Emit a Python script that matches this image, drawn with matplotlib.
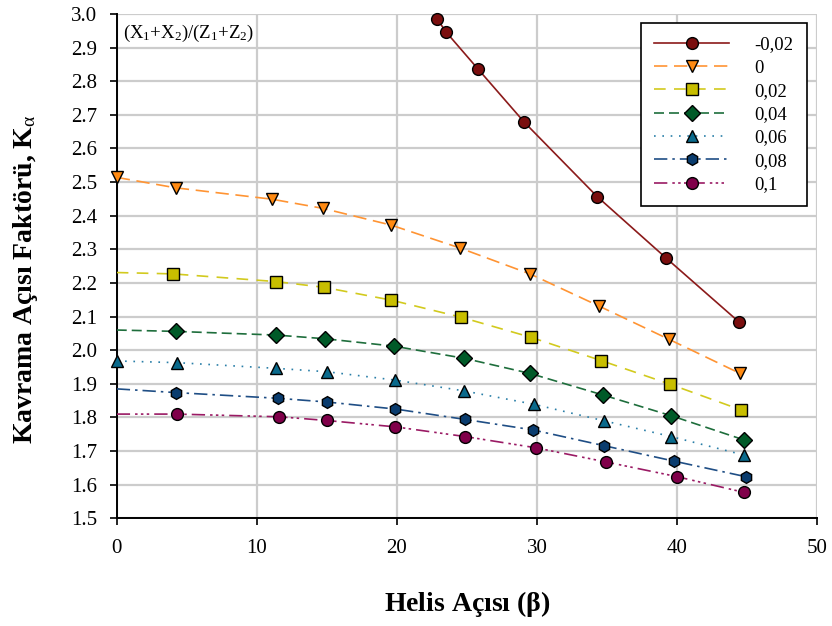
import matplotlib
matplotlib.use("Agg")
import matplotlib.pyplot as plt

plt.rcParams['font.family'] = ['Liberation Serif', 'DejaVu Serif']
plt.rcParams['mathtext.fontset'] = 'custom'
plt.rcParams['mathtext.rm'] = 'Liberation Serif'
plt.rcParams['mathtext.it'] = 'Liberation Serif:italic'
plt.rcParams['mathtext.bf'] = 'Liberation Serif:bold'

# ── Data ─────────────────────────────────────────────────────────────────────
labels = ['-0,02', '0', '0,02', '0,04', '0,06', '0,08', '0,1']

x_m002 = [22.9, 23.5, 25.8, 29.1, 34.3, 39.2, 44.4]
y_m002 = [2.984, 2.947, 2.836, 2.678, 2.457, 2.275, 2.085]

x_000 = [0.0, 4.2, 11.1, 14.7, 19.6, 24.5, 29.5, 34.4, 39.4, 44.5]
y_000 = [2.514, 2.483, 2.449, 2.422, 2.372, 2.304, 2.227, 2.132, 2.033, 1.931]

x_002 = [4.0, 11.4, 14.8, 19.6, 24.6, 29.6, 34.6, 39.5, 44.6]
y_002 = [2.227, 2.204, 2.187, 2.149, 2.098, 2.038, 1.969, 1.899, 1.822]

x_004 = [4.2, 11.4, 14.9, 19.8, 24.8, 29.5, 34.7, 39.6, 44.8]
y_004 = [2.056, 2.045, 2.034, 2.012, 1.976, 1.931, 1.867, 1.805, 1.733]

x_006 = [0.0, 4.3, 11.4, 15.0, 19.9, 24.8, 29.8, 34.8, 39.6, 44.8]
y_006 = [1.968, 1.963, 1.946, 1.936, 1.911, 1.879, 1.839, 1.790, 1.743, 1.688]

x_008 = [4.2, 11.5, 15.0, 19.9, 24.9, 29.7, 34.8, 39.8, 44.9]
y_008 = [1.874, 1.857, 1.846, 1.825, 1.794, 1.763, 1.716, 1.670, 1.624]

x_010 = [4.3, 11.6, 15.0, 19.9, 24.9, 29.9, 34.9, 40.0, 44.8]
y_010 = [1.810, 1.802, 1.791, 1.772, 1.743, 1.710, 1.668, 1.624, 1.577]

# value of each trend line where it meets the y axis (None = no start point)
line_start = [None, 2.516, 2.231, 2.060, 1.966, 1.885, 1.810]

xs = [x_m002, x_000, x_002, x_004, x_006, x_008, x_010]
ys = [y_m002, y_000, y_002, y_004, y_006, y_008, y_010]

# ── Styles ───────────────────────────────────────────────────────────────────
line_colors = ['#8B1A1A', '#FF9433', '#D2CA1E', '#1E6E3C', '#2A7FA8', '#1F4E85', '#9A1A64']
face_colors = ['#7A0E0E', '#FF8A12', '#C8BE00', '#005A28', '#0A6A8C', '#0A3C6E', '#80004A']
markers = ['o', 'v', 's', 'D', '^', 'h', 'o']
msizes = [8.5, 8.5, 8, 8, 8.5, 8.5, 8.5]
dashes = [None, (8, 4), (7, 5), (6, 3), (1, 4), (8, 3, 1.5, 3), (8, 3, 1.5, 2, 1.5, 2, 1.5, 3)]

fig = plt.figure(figsize=(8.32, 6.26), dpi=100)
ax = fig.add_axes([0.1403, 0.172, 0.8417, 0.8057])

handles = []
for i in range(len(labels)):
    lx = list(xs[i])
    ly = list(ys[i])
    if line_start[i] is not None and lx[0] > 0:
        lx = [0.0] + lx
        ly = [line_start[i]] + ly
    ln, = ax.plot(lx, ly, color=line_colors[i], lw=1.2, zorder=3)
    if dashes[i] is not None:
        ln.set_dashes(dashes[i])
    ax.plot(xs[i], ys[i], linestyle='none', marker=markers[i], ms=msizes[i],
            mfc=face_colors[i], mec='black', mew=1.0, zorder=4, clip_on=False)
    h, = ax.plot([], [], color=line_colors[i], lw=1.2, marker=markers[i], ms=msizes[i],
                 mfc=face_colors[i], mec='black', mew=1.0)
    if dashes[i] is not None:
        h.set_dashes(dashes[i])
    handles.append(h)

ax.set_xlim(0, 50)
ax.set_ylim(1.5, 3.0)
ax.set_xticks(range(0, 51, 10))
ax.set_yticks([1.5 + 0.1 * k for k in range(16)])
ax.set_yticklabels([f"{1.5 + 0.1 * k:.1f}" for k in range(16)])
ax.tick_params(labelsize=15, direction='out', length=5, width=1.2)
ax.tick_params(axis='x', pad=10)
ax.tick_params(axis='y', pad=9)
ax.grid(True, color='#CCCCCC', lw=1.6, zorder=0)
ax.set_axisbelow(True)
for s in ['top', 'right']:
    ax.spines[s].set_visible(False)
for s in ['left', 'bottom']:
    ax.spines[s].set_linewidth(1.4)

ax.set_xlabel(r'Helis Açısı ($\mathbf{\beta}$)', fontsize=20, fontweight='bold', labelpad=22)
ax.set_ylabel(r'Kavrama Açısı Faktörü, K$_{\mathrm{\alpha}}$', fontsize=20, fontweight='bold')
ax.yaxis.set_label_coords(-0.11, 0.475)

ax.text(0.009, 0.962, r'(X$_1$+X$_2$)/(Z$_1$+Z$_2$)', transform=ax.transAxes,
        fontsize=13.5, va='center', ha='left')

leg = ax.legend(handles, labels, loc='upper right', bbox_to_anchor=(0.985, 0.982),
                borderaxespad=0, fontsize=13.5, frameon=True, fancybox=False,
                framealpha=1, edgecolor='black', handlelength=4.0, handletextpad=1.35,
                labelspacing=0.33, borderpad=0.7)
leg.get_frame().set_linewidth(1.2)

plt.savefig("out.png", dpi=100)
